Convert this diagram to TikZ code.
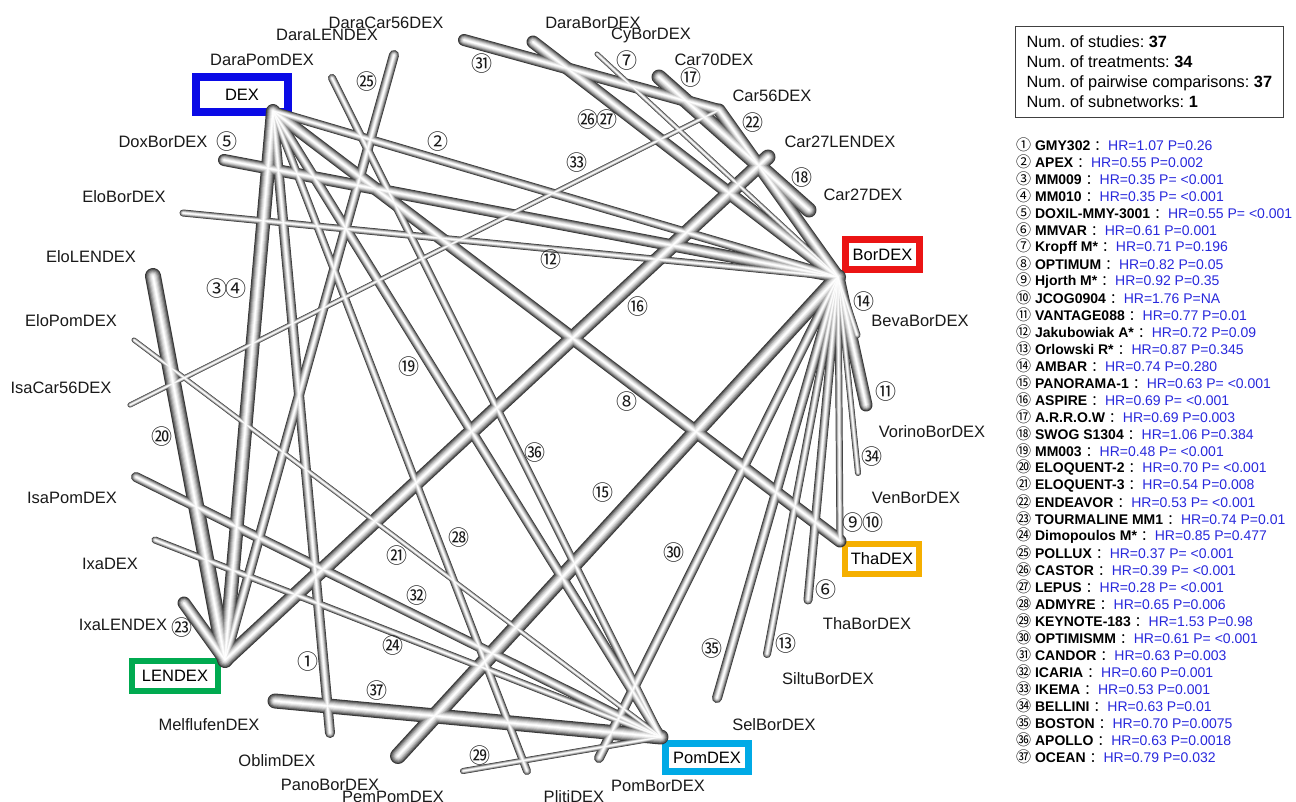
\documentclass[tikz,border=0pt]{standalone}
\usepackage{fontspec}
\setmainfont{Liberation Sans}
\newfontfamily\cjk{Noto Sans CJK SC}
\usepackage{tikz}
\usetikzlibrary{positioning}
\frenchspacing

\definecolor{dexblue}{RGB}{10,10,230}
\definecolor{borred}{RGB}{235,20,20}
\definecolor{thaorange}{RGB}{245,175,0}
\definecolor{pomcyan}{RGB}{0,170,230}
\definecolor{lengreen}{RGB}{0,170,80}
\definecolor{hrblue}{RGB}{40,40,220}

% circled study numbers
\newcommand{\cnum}[1]{{\cjk\ifnum#1<21 \symbol{\numexpr"245F+#1\relax}\else\ifnum#1<36 \symbol{\numexpr"323C+#1\relax}\else\symbol{\numexpr"328D+#1\relax}\fi\fi}}

% comparisons: from/to/tube width
\newcommand{\edgelist}{DEX/BorDEX/9, DEX/LENDEX/14, DEX/ThaDEX/13, DEX/PomDEX/10,
  DEX/PlitiDEX/8, DEX/OblimDEX/10, DoxBorDEX/BorDEX/12, EloBorDEX/BorDEX/7,
  EloLENDEX/LENDEX/16, EloPomDEX/PomDEX/5, IsaCar56DEX/Car56DEX/5, IsaPomDEX/PomDEX/10,
  IxaDEX/PomDEX/7, IxaLENDEX/LENDEX/13, MelflufenDEX/PomDEX/15, PanoBorDEX/BorDEX/16,
  PemPomDEX/PomDEX/6, PomBorDEX/BorDEX/10, SelBorDEX/BorDEX/10, SiltuBorDEX/BorDEX/8,
  ThaBorDEX/BorDEX/9, ThaDEX/BorDEX/7, VenBorDEX/BorDEX/6, BevaBorDEX/BorDEX/7,
  VorinoBorDEX/BorDEX/13, Car27LENDEX/LENDEX/15, Car70DEX/Car27DEX/15, Car56DEX/BorDEX/13,
  DaraCar56DEX/Car56DEX/12, DaraBorDEX/BorDEX/13, CyBorDEX/BorDEX/5, DaraLENDEX/LENDEX/10,
  DaraPomDEX/PomDEX/8}

\tikzset{
  trt/.style={font=\fontsize{16.5}{18}\selectfont, inner sep=1pt, text=black!90},
  mainbox/.style={draw, font=\fontsize{16.5}{18}\selectfont, inner sep=2pt},
  study/.style={font=\fontsize{21}{21}\selectfont, inner sep=0pt, text=black!90},
}

\begin{document}
\begin{tikzpicture}[x=1pt, y=-1pt]
    \useasboundingbox (0,0) rectangle (1296,801);

    % tube ends
    \coordinate (DEX) at (273,111);
    \coordinate (BorDEX) at (838,277);
    \coordinate (ThaDEX) at (840,541);
    \coordinate (PomDEX) at (661,737);
    \coordinate (LENDEX) at (225,660);
    \coordinate (DaraPomDEX) at (332,78);
    \coordinate (DaraLENDEX) at (394,55);
    \coordinate (DaraCar56DEX) at (464,40);
    \coordinate (DaraBorDEX) at (533,42);
    \coordinate (CyBorDEX) at (597,54);
    \coordinate (Car70DEX) at (659,77);
    \coordinate (Car56DEX) at (719,110);
    \coordinate (Car27LENDEX) at (768,157);
    \coordinate (Car27DEX) at (809,210);
    \coordinate (BevaBorDEX) at (857,335);
    \coordinate (VorinoBorDEX) at (866,405);
    \coordinate (VenBorDEX) at (858,473);
    \coordinate (ThaBorDEX) at (808,600);
    \coordinate (SiltuBorDEX) at (767,654);
    \coordinate (SelBorDEX) at (717,698);
    \coordinate (PomBorDEX) at (599,758);
    \coordinate (PlitiDEX) at (527,771);
    \coordinate (PemPomDEX) at (463,771);
    \coordinate (PanoBorDEX) at (398,756);
    \coordinate (OblimDEX) at (330,733);
    \coordinate (MelflufenDEX) at (275,701);
    \coordinate (IxaLENDEX) at (184,603);
    \coordinate (IxaDEX) at (155,540);
    \coordinate (IsaPomDEX) at (136,477);
    \coordinate (IsaCar56DEX) at (130,405);
    \coordinate (EloPomDEX) at (134,340);
    \coordinate (EloLENDEX) at (153,276);
    \coordinate (EloBorDEX) at (183,213);
    \coordinate (DoxBorDEX) at (224,160);

    % main treatments
    \node[mainbox, draw=dexblue, line width=8pt, minimum width=92pt, minimum height=35pt] (DEX-box) at (242,94.5) {DEX};
    \node[mainbox, draw=borred, line width=7pt, minimum width=74pt, minimum height=30pt] (BorDEX-box) at (882.5,254.5) {BorDEX};
    \node[mainbox, draw=thaorange, line width=6pt, minimum width=74pt, minimum height=30pt] (ThaDEX-box) at (882,559) {ThaDEX};
    \node[mainbox, draw=pomcyan, line width=7pt, minimum width=83pt, minimum height=28pt] (PomDEX-box) at (707,757.5) {PomDEX};
    \node[mainbox, draw=lengreen, line width=6pt, minimum width=86pt, minimum height=30pt] (LENDEX-box) at (175,676) {LENDEX};

    % tubes, layer by layer so crossings stay light
    \foreach \f/\g in {1/22,0.86/38,0.72/54,0.58/68,0.44/80,0.3/90,0.16/97,0.06/100}{
      \foreach \p/\q/\w in \edgelist
        \draw[line cap=round, line width=\f*\w, white!\g!black] (\p) -- (\q);
    }

    % other treatments
    \foreach \t/\x/\y in {DaraCar56DEX/386/23, DaraLENDEX/327/35, DaraPomDEX/262/60,
        DoxBorDEX/163/142, EloBorDEX/124/197, EloLENDEX/91/257, EloPomDEX/71/321,
        IsaCar56DEX/61/388, IsaPomDEX/72/498, IxaDEX/110/564, IxaLENDEX/123/625,
        MelflufenDEX/209/725, OblimDEX/277/761, PanoBorDEX/330/785, PemPomDEX/393/797,
        PlitiDEX/574/797, PomBorDEX/658/786, SelBorDEX/774/725, SiltuBorDEX/828/679,
        ThaBorDEX/867/624, VenBorDEX/916/498, VorinoBorDEX/932/432, BevaBorDEX/920/321,
        Car27DEX/863/195, Car27LENDEX/840/142, Car56DEX/772/96, Car70DEX/714/60,
        CyBorDEX/651/35, DaraBorDEX/593/23}
      \node[trt] (\t-lab) at (\x,\y) {\t};

    % study numbers on the tubes
    \foreach \i/\x/\y in {1/308/662, 2/438/142, 3/217/289, 4/236/289, 5/227/142,
        6/826/590, 7/627/61, 8/627/402, 9/853/523, 10/873/523, 11/886/392,
        12/551/260, 13/786/644, 14/864/302, 15/603/493, 16/638/307, 17/691/78,
        18/802/178, 19/409/367, 20/162/437, 21/397/556, 22/753/123, 23/182/628,
        24/393/646, 25/367/82, 26/588/120, 27/607/120, 28/459/538, 29/480/756,
        30/674/553, 31/482/64, 32/417/596, 33/577/163, 34/872/457, 35/712/649,
        36/535/453, 37/377/691}
      \node[study] (s\i) at (\x,\y) {\cnum{\i}};

    % summary box
    \node[draw=black!75, line width=1.2pt, anchor=north west, minimum height=91pt,
          inner xsep=11pt, align=left, font=\fontsize{16.3}{20}\selectfont] (summary) at (1015,26)
      {Num. of studies: \textbf{37}\\Num. of treatments: \textbf{34}\\Num. of pairwise comparisons: \textbf{37}\\Num. of subnetworks: \textbf{1}};

    % study list
    \foreach \i/\nm/\hr in {1/GMY302/{HR=1.07 P=0.26}, 2/APEX/{HR=0.55 P=0.002},
        3/MM009/{HR=0.35 P= <0.001}, 4/MM010/{HR=0.35 P= <0.001},
        5/DOXIL-MMY-3001/{HR=0.55 P= <0.001}, 6/MMVAR/{HR=0.61 P=0.001},
        7/{Kropff M*}/{HR=0.71 P=0.196}, 8/OPTIMUM/{HR=0.82 P=0.05},
        9/{Hjorth M*}/{HR=0.92 P=0.35}, 10/JCOG0904/{HR=1.76 P=NA},
        11/VANTAGE088/{HR=0.77 P=0.01}, 12/{Jakubowiak A*}/{HR=0.72 P=0.09},
        13/{Orlowski R*}/{HR=0.87 P=0.345}, 14/AMBAR/{HR=0.74 P=0.280},
        15/PANORAMA-1/{HR=0.63 P= <0.001}, 16/ASPIRE/{HR=0.69 P= <0.001},
        17/A.R.R.O.W/{HR=0.69 P=0.003}, 18/{SWOG S1304}/{HR=1.06 P=0.384},
        19/MM003/{HR=0.48 P= <0.001}, 20/ELOQUENT-2/{HR=0.70 P= <0.001},
        21/ELOQUENT-3/{HR=0.54 P=0.008}, 22/ENDEAVOR/{HR=0.53 P= <0.001},
        23/{TOURMALINE MM1}/{HR=0.74 P=0.01}, 24/{Dimopoulos M*}/{HR=0.85 P=0.477},
        25/POLLUX/{HR=0.37 P= <0.001}, 26/CASTOR/{HR=0.39 P= <0.001},
        27/LEPUS/{HR=0.28 P= <0.001}, 28/ADMYRE/{HR=0.65 P=0.006},
        29/KEYNOTE-183/{HR=1.53 P=0.98}, 30/OPTIMISMM/{HR=0.61 P= <0.001},
        31/CANDOR/{HR=0.63 P=0.003}, 32/ICARIA/{HR=0.60 P=0.001},
        33/IKEMA/{HR=0.53 P=0.001}, 34/BELLINI/{HR=0.63 P=0.01},
        35/BOSTON/{HR=0.70 P=0.0075}, 36/APOLLO/{HR=0.63 P=0.0018},
        37/OCEAN/{HR=0.79 P=0.032}}
      \node[anchor=west, inner sep=0pt, font=\fontsize{14}{16}\selectfont] (item\i) at (1016,145+17*\i-17)
        {{\fontsize{15}{16}\selectfont\cnum{\i}} \textbf{\nm} {\cjk ：}\textcolor{hrblue}{\hr}};
\end{tikzpicture}
\end{document}
